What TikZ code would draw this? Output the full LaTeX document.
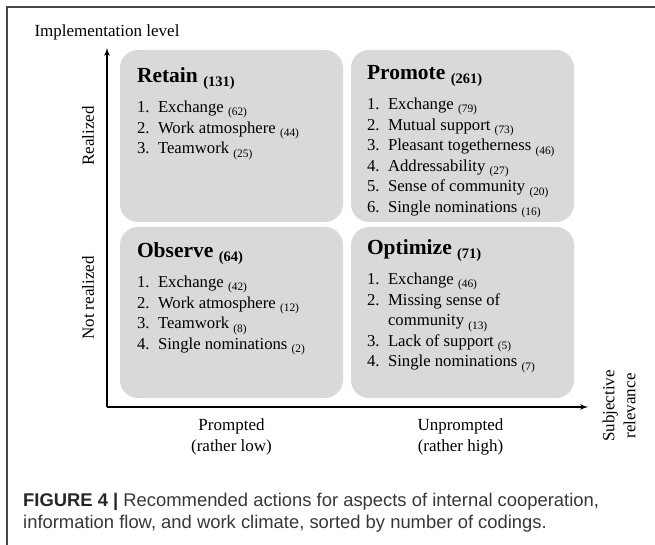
\documentclass[tikz,border=0pt]{standalone}
\usepackage{fontspec}
\setmainfont{Liberation Serif}
\newfontfamily\captionfont{Liberation Sans}
\usepackage{tikz}
\usetikzlibrary{arrows,positioning}
\definecolor{boxgray}{RGB}{217,217,217}
\definecolor{framegray}{RGB}{70,70,70}
\definecolor{captiongray}{RGB}{55,55,55}
\newcommand{\cnt}[1]{{\fontsize{11.4}{12}\selectfont\raisebox{-3.5pt}{(#1)}}}
\newcommand{\headcnt}[1]{{\fontsize{14.5}{16}\selectfont\raisebox{-4pt}{(#1)}}}

\begin{document}
\begin{tikzpicture}[
    x=1pt, y=-1pt,
    >=latex',
    quadrant/.style={
		rectangle,
		rounded corners=18pt,
		fill=boxgray,
		minimum width=223pt,
		minimum height=172pt,
		inner sep=0pt
	},
	title/.style={
		anchor=base west,
		inner sep=0pt,
		font=\fontsize{21.5}{24}\selectfont\bfseries
	},
	items/.style={
		anchor=north west,
		inner sep=0pt,
		font=\fontsize{16.7}{20.6}\selectfont
	},
	axislabel/.style={
		inner sep=0pt,
		align=center,
		font=\fontsize{17}{21}\selectfont
	}
  ]

\useasboundingbox (0,0) rectangle (655,545);

% // frame
\draw [framegray, line width=1.3pt] (7,545) -- (7,7) -- (655,7);

% // axes
\coordinate (origin) at (107,407);
\coordinate (ytip) at (107,48);
\coordinate (xtip) at (588,407);
\draw [->, line width=1.6pt] (origin) -- (ytip);
\draw [->, line width=1.6pt] (origin) -- (xtip);

% // the four boxes
\node [quadrant] (retain) at (231.5,136) {};
\node [quadrant] (promote) at (462.5,136) {};
\node [quadrant, minimum height=171pt] (observe) at (231.5,312.5) {};
\node [quadrant, minimum height=171pt] (optimize) at (462.5,312.5) {};

\node [title] (retainT) at ([shift={(17,33)}]retain.north west) {Retain \headcnt{131}};
\node [items] (retainL) at ([yshift=-15pt]retainT.base west)
 {%
 \begin{tabular}{@{}l@{\hspace{8.5pt}}l@{}}
  1. & Exchange \cnt{62}\\
  2. & Work atmosphere \cnt{44}\\
  3. & Teamwork \cnt{25}
 \end{tabular}
 };

\node [title] (promoteT) at ([shift={(16,30)}]promote.north west) {Promote \headcnt{261}};
\node [items] (promoteL) at ([yshift=-15pt]promoteT.base west)
 {%
 \begin{tabular}{@{}l@{\hspace{8.5pt}}l@{}}
  1. & Exchange \cnt{79}\\
  2. & Mutual support \cnt{73}\\
  3. & Pleasant togetherness \cnt{46}\\
  4. & Addressability \cnt{27}\\
  5. & Sense of community \cnt{20}\\
  6. & Single nominations \cnt{16}
 \end{tabular}
 };

\node [title] (observeT) at ([shift={(17,31)}]observe.north west) {Observe \headcnt{64}};
\node [items] (observeL) at ([yshift=-15pt]observeT.base west)
 {%
 \begin{tabular}{@{}l@{\hspace{8.5pt}}l@{}}
  1. & Exchange \cnt{42}\\
  2. & Work atmosphere \cnt{12}\\
  3. & Teamwork \cnt{8}\\
  4. & Single nominations \cnt{2}
 \end{tabular}
 };

\node [title] (optimizeT) at ([shift={(16,28)}]optimize.north west) {Optimize \headcnt{71}};
\node [items] (optimizeL) at ([yshift=-15pt]optimizeT.base west)
 {%
 \begin{tabular}{@{}l@{\hspace{8.5pt}}l@{}}
  1. & Exchange \cnt{46}\\
  2. & Missing sense of\\
     & community \cnt{13}\\
  3. & Lack of support \cnt{5}\\
  4. & Single nominations \cnt{7}
 \end{tabular}
 };

% // axis labels
\node [axislabel, above=8pt of ytip] (level) {Implementation level};
\node [axislabel, rotate=90] (realized) at (88,136) {Realized};
\node [axislabel, rotate=90] (notrealized) at (88,298) {Not realized};
\node [axislabel, below=20pt of observe] (prompted) {Prompted\\(rather low)};
\node [axislabel, below=20pt of optimize, xshift=-2pt] (unprompted) {Unprompted\\(rather high)};
\node [axislabel, rotate=90] (relevance) at (619,406) {Subjective\\relevance};

% // caption
\node [anchor=north west, inner sep=0pt, align=left, text=captiongray,
font=\captionfont\fontsize{18.4}{22}\selectfont] (caption) at (23,493)
 {\textbf{\color{black!85}FIGURE 4 |} Recommended actions for aspects of internal cooperation,\\
 information flow, and work climate, sorted by number of codings.};

\end{tikzpicture}
\end{document}
